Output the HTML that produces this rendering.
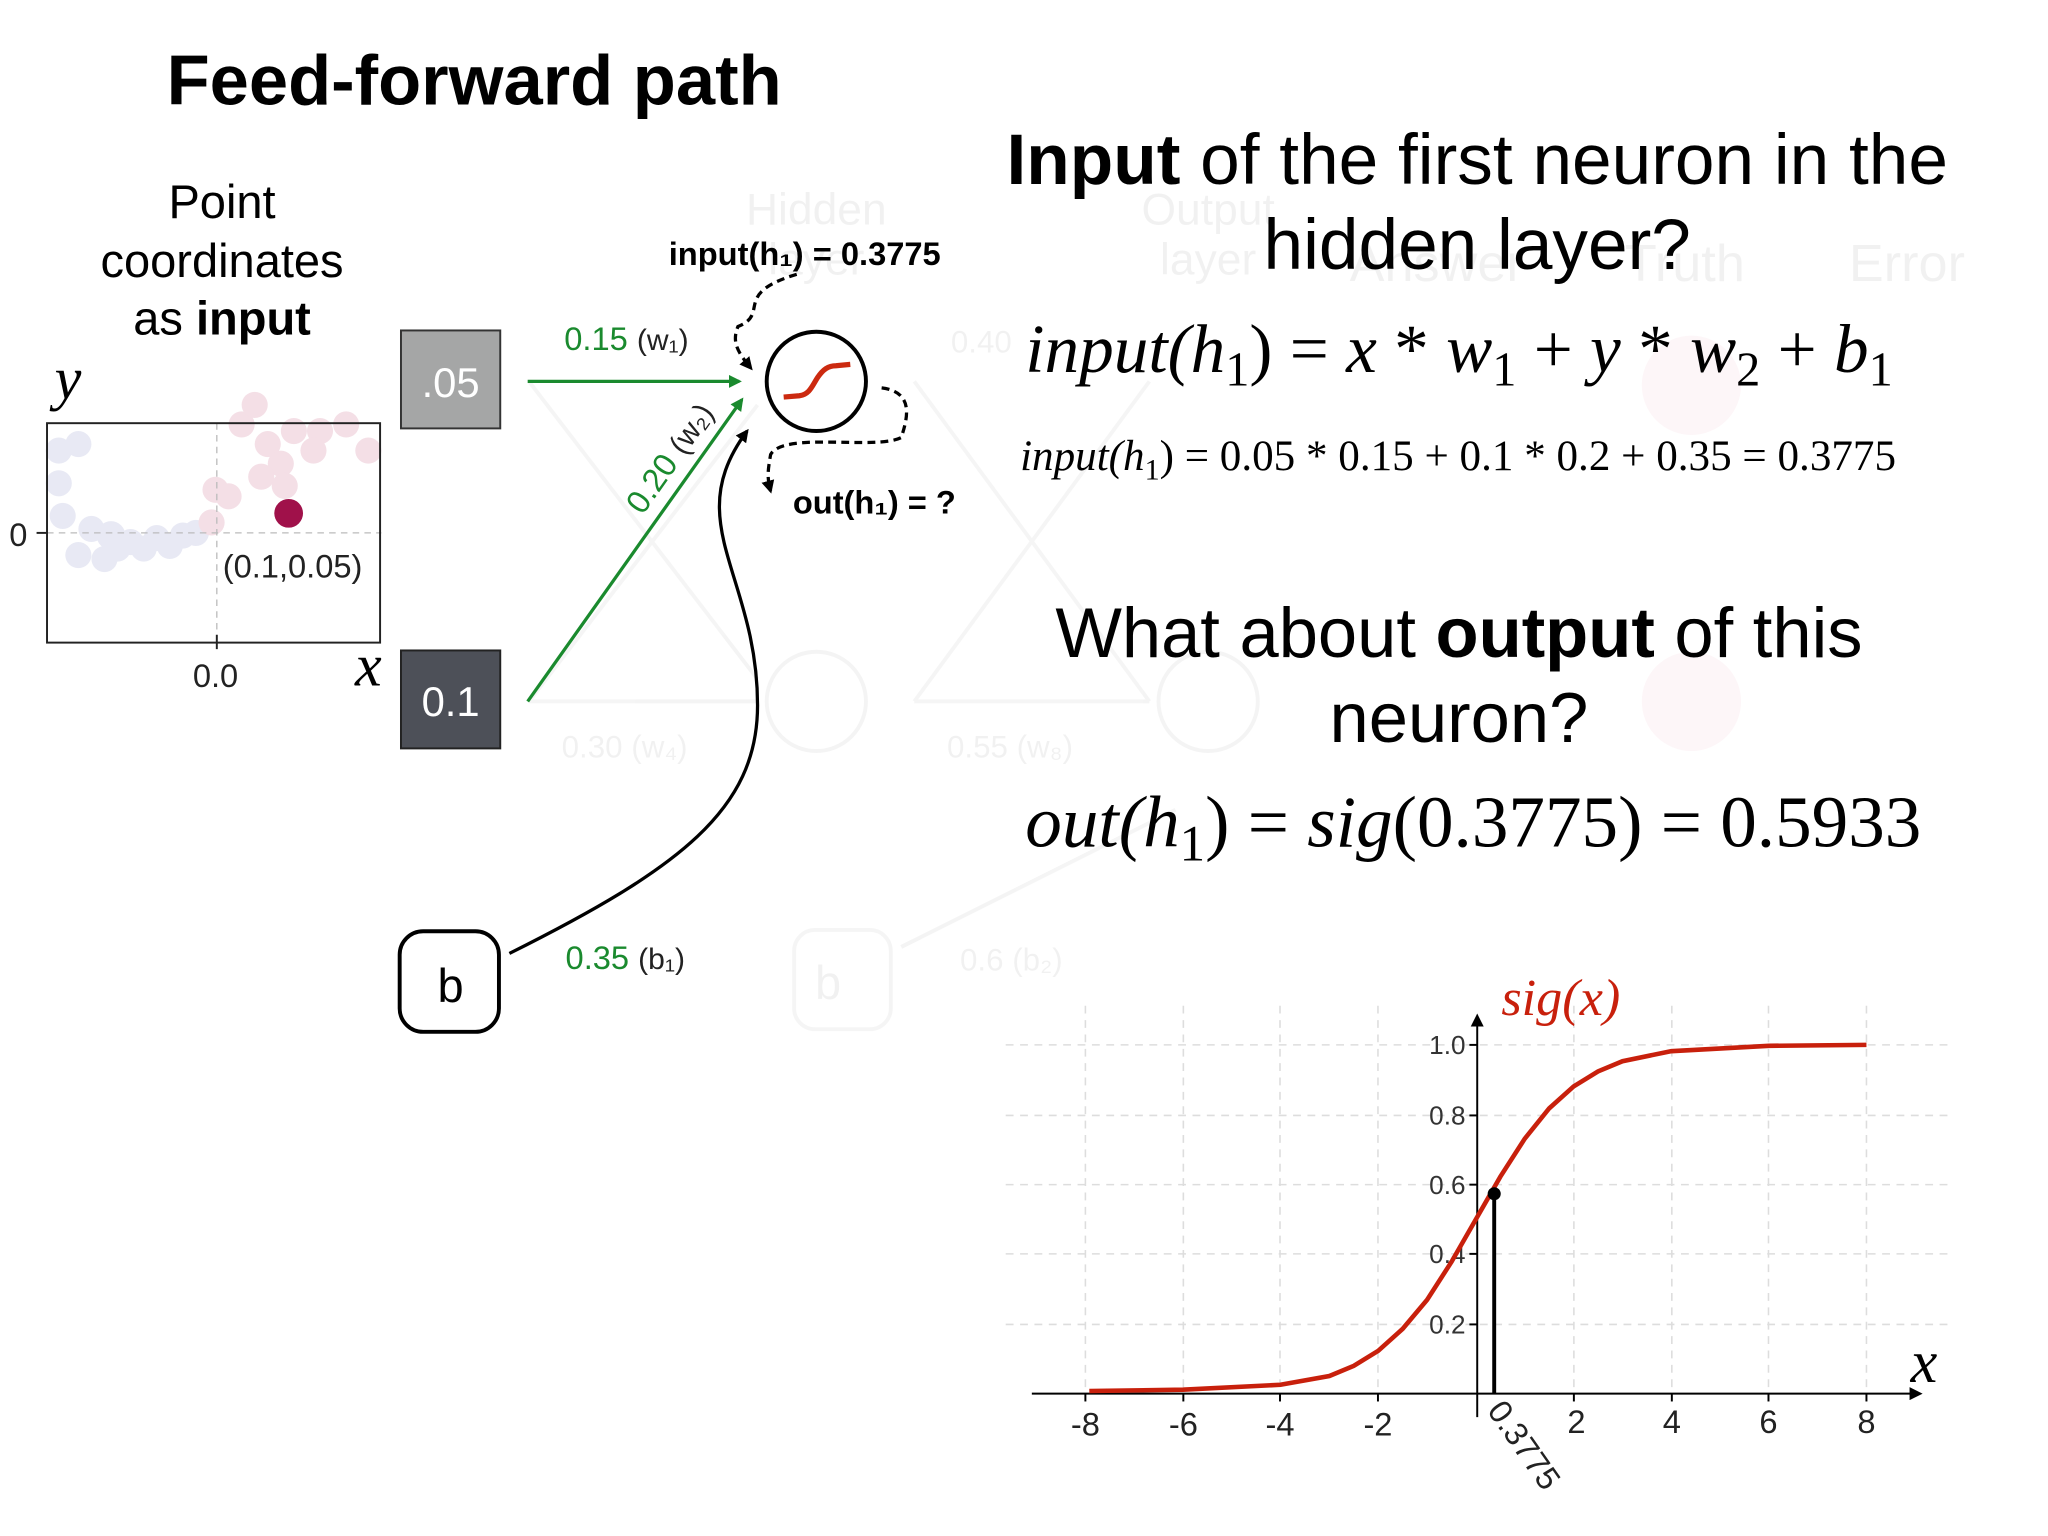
<!DOCTYPE html>
<html><head><meta charset="utf-8"><style>
html,body{margin:0;padding:0;background:#fff;width:2048px;height:1536px;overflow:hidden}
svg{display:block}
.s{font-family:"Liberation Sans",sans-serif}
.m{font-family:"Liberation Serif",serif}
</style></head><body>
<svg width="2048" height="1536" viewBox="0 0 1568 1176" preserveAspectRatio="none" xmlns="http://www.w3.org/2000/svg">
<defs>
<marker id="ag" markerWidth="10" markerHeight="10" refX="8" refY="5" orient="auto" markerUnits="userSpaceOnUse"><path d="M0,0 L10,5 L0,10 z" fill="#1a8a2e"/></marker>
<marker id="ak" markerWidth="10" markerHeight="10" refX="8" refY="5" orient="auto" markerUnits="userSpaceOnUse"><path d="M0,0 L10,5 L0,10 z" fill="#000"/></marker>
</defs>
<rect width="1568" height="1176" fill="#fff"/>

<!-- faded background network -->
<g opacity="0.05" class="s" fill="#000">
<text x="625" y="172" font-size="34" text-anchor="middle">Hidden</text>
<text x="625" y="210" font-size="34" text-anchor="middle">layer</text>
<text x="925" y="172" font-size="34" text-anchor="middle">Output</text>
<text x="925" y="210" font-size="34" text-anchor="middle">layer</text>
<text x="1100" y="215" font-size="40" text-anchor="middle">Answer</text>
<text x="1290" y="215" font-size="40" text-anchor="middle">Truth</text>
<text x="1460" y="215" font-size="40" text-anchor="middle">Error</text>
<text x="430" y="580" font-size="24">0.30 (w₄)</text>
<text x="725" y="580" font-size="24">0.55 (w₈)</text>
<text x="728" y="270" font-size="24">0.40</text>
<text x="634" y="765" font-size="36" text-anchor="middle">b</text>
<text x="735" y="743" font-size="24">0.6 (b₂)</text>
</g>
<g opacity="0.04" fill="none" stroke="#000" stroke-width="3">
<circle cx="625" cy="537" r="38"/><circle cx="925" cy="537" r="38"/>
<path d="M405,292 L580,520 M405,537 L580,310 M700,292 L880,537 M700,537 L880,292 M700,537 H880 M405,537 H580"/>
<rect x="608" y="712" width="74" height="76" rx="16"/>
<path d="M690,725 L900,620"/>
</g>
<g opacity="0.04" fill="#c02050"><circle cx="1295" cy="295" r="38"/><circle cx="1295" cy="537" r="38"/></g>

<!-- title -->
<text x="363" y="80" class="s" font-size="54" font-weight="bold" text-anchor="middle">Feed-forward path</text>
<text x="170" y="167" class="s" font-size="36" text-anchor="middle">Point</text>
<text x="170" y="212" class="s" font-size="36" text-anchor="middle">coordinates</text>
<text x="170" y="256" class="s" font-size="36" text-anchor="middle">as <tspan font-weight="bold">input</tspan></text>

<!-- scatter plot -->
<g opacity="0.22">
<g fill="#9aa0d0">
<circle cx="45" cy="345" r="10"/><circle cx="60" cy="340" r="10"/><circle cx="45" cy="370" r="10"/><circle cx="48" cy="395" r="10"/><circle cx="70" cy="405" r="10"/><circle cx="85" cy="410" r="11"/><circle cx="100" cy="415" r="10"/><circle cx="120" cy="412" r="10"/><circle cx="140" cy="410" r="10"/><circle cx="60" cy="425" r="10"/><circle cx="90" cy="420" r="10"/><circle cx="110" cy="420" r="10"/><circle cx="130" cy="418" r="10"/><circle cx="150" cy="408" r="10"/><circle cx="80" cy="428" r="10"/>
</g>
<g fill="#d07090">
<circle cx="165" cy="375" r="10"/><circle cx="175" cy="380" r="10"/><circle cx="162" cy="400" r="10"/><circle cx="185" cy="325" r="10"/><circle cx="205" cy="340" r="10"/><circle cx="215" cy="355" r="10"/><circle cx="200" cy="365" r="10"/><circle cx="225" cy="330" r="10"/><circle cx="245" cy="330" r="10"/><circle cx="265" cy="325" r="10"/><circle cx="282" cy="345" r="10"/><circle cx="240" cy="345" r="10"/><circle cx="195" cy="310" r="10"/><circle cx="218" cy="372" r="10"/>
</g></g>
<line x1="166" y1="324" x2="166" y2="492" stroke="#bbb" stroke-width="1" stroke-dasharray="5,4"/>
<line x1="36" y1="408" x2="292" y2="408" stroke="#bbb" stroke-width="1" stroke-dasharray="5,4"/>
<rect x="36" y="324" width="255" height="168" fill="none" stroke="#222" stroke-width="1.5"/>
<line x1="28" y1="408" x2="36" y2="408" stroke="#222" stroke-width="1.5"/>
<line x1="166" y1="486" x2="166" y2="497" stroke="#222" stroke-width="1.5"/>
<circle cx="221" cy="393" r="11" fill="#a0114a"/>
<text x="224" y="442" class="s" font-size="25" text-anchor="middle" fill="#222">(0.1,0.05)</text>
<text x="14" y="418" class="s" font-size="25" text-anchor="middle" fill="#222">0</text>
<text x="165" y="526" class="s" font-size="25" text-anchor="middle" fill="#222">0.0</text>
<text x="52" y="305" class="m" font-size="46" font-style="italic" text-anchor="middle">y</text>
<text x="282" y="525" class="m" font-size="46" font-style="italic" text-anchor="middle">x</text>

<!-- input nodes -->
<rect x="307" y="253" width="76" height="75" fill="#a5a6a6" stroke="#333" stroke-width="1.5"/>
<text x="345" y="304" class="s" font-size="32" fill="#fff" text-anchor="middle">.05</text>
<rect x="307" y="498" width="76" height="75" fill="#4d5058" stroke="#222" stroke-width="1.5"/>
<text x="345" y="548" class="s" font-size="32" fill="#fff" text-anchor="middle">0.1</text>
<rect x="306" y="713" width="76" height="77" rx="18" fill="#fff" stroke="#000" stroke-width="3"/>
<text x="345" y="767" class="s" font-size="36" text-anchor="middle">b</text>

<!-- connections -->
<line x1="404" y1="292" x2="566" y2="292" stroke="#1a8a2e" stroke-width="2.5" marker-end="url(#ag)"/>
<line x1="404" y1="537" x2="568" y2="306" stroke="#1a8a2e" stroke-width="2.5" marker-end="url(#ag)"/>
<path d="M390,730 C520,665 580,620 580,540 C580,440 520,400 572,330" fill="none" stroke="#000" stroke-width="2.5" marker-end="url(#ak)"/>
<text x="432" y="268" class="s" font-size="25" fill="#1a8a2e">0.15 <tspan fill="#222" font-size="23">(w₁)</tspan></text>
<text transform="translate(492,395) rotate(-55)" class="s" font-size="25" fill="#1a8a2e">0.20 <tspan fill="#222" font-size="23">(w₂)</tspan></text>
<text x="433" y="742" class="s" font-size="25" fill="#1a8a2e">0.35 <tspan fill="#222" font-size="23">(b₁)</tspan></text>

<!-- neuron -->
<circle cx="625" cy="292" r="38" fill="#fff" stroke="#000" stroke-width="3"/>
<path d="M600,304 L612,303 C620,302 622,295 626,289 C630,283 634,280 640,280 L651,279" fill="none" stroke="#cc2a10" stroke-width="4"/>
<path d="M610,210 C560,225 590,240 565,250 C560,262 565,270 575,282" fill="none" stroke="#000" stroke-width="2.5" stroke-dasharray="6,4" marker-end="url(#ak)"/>
<path d="M675,297 C700,300 695,320 690,335 C670,345 600,330 590,348 C588,360 587,365 590,376" fill="none" stroke="#000" stroke-width="2.5" stroke-dasharray="6,4" marker-end="url(#ak)"/>
<text x="512" y="203" class="s" font-size="25" font-weight="bold">input(h₁) = 0.3775</text>
<text x="607" y="393" class="s" font-size="25" font-weight="bold">out(h₁) = ?</text>

<!-- right text -->
<text x="1131" y="141" class="s" font-size="54.5" text-anchor="middle"><tspan font-weight="bold">Input</tspan> of the first neuron in the</text>
<text x="1131" y="206" class="s" font-size="54.5" text-anchor="middle">hidden layer?</text>
<text x="785" y="285" class="m" font-size="53" font-style="italic">input(h<tspan font-style="normal" font-size="37" dy="10">1</tspan><tspan dy="-10" font-style="normal">) = </tspan>x<tspan font-style="normal"> * </tspan>w<tspan font-style="normal" font-size="37" dy="10">1</tspan><tspan dy="-10" font-style="normal"> + </tspan>y<tspan font-style="normal"> * </tspan>w<tspan font-style="normal" font-size="37" dy="10">2</tspan><tspan dy="-10" font-style="normal"> + </tspan>b<tspan font-style="normal" font-size="37" dy="10">1</tspan></text>
<text x="781" y="360" class="m" font-size="33" font-style="italic">input(h<tspan font-style="normal" font-size="23" dy="7">1</tspan><tspan dy="-7" font-style="normal">) = 0.05 * 0.15 + 0.1 * 0.2 + 0.35 = 0.3775</tspan></text>
<text x="1117" y="503" class="s" font-size="54" text-anchor="middle">What about <tspan font-weight="bold">output</tspan> of this</text>
<text x="1117" y="568" class="s" font-size="54" text-anchor="middle">neuron?</text>
<text x="785" y="648" class="m" font-size="56" font-style="italic">out(h<tspan font-style="normal" font-size="39" dy="11">1</tspan><tspan dy="-11" font-style="normal">) = </tspan>sig<tspan font-style="normal">(0.3775) = 0.5933</tspan></text>

<!-- sigmoid chart -->
<g stroke="#ddd" stroke-width="1.2" stroke-dasharray="6,5">
<line x1="770" y1="800" x2="1495" y2="800"/><line x1="770" y1="854" x2="1495" y2="854"/><line x1="770" y1="907" x2="1495" y2="907"/><line x1="770" y1="960" x2="1495" y2="960"/><line x1="770" y1="1014" x2="1495" y2="1014"/>
<line x1="831" y1="770" x2="831" y2="1067"/><line x1="906" y1="770" x2="906" y2="1067"/><line x1="980" y1="770" x2="980" y2="1067"/><line x1="1055" y1="770" x2="1055" y2="1067"/><line x1="1205" y1="770" x2="1205" y2="1067"/><line x1="1280" y1="770" x2="1280" y2="1067"/><line x1="1354" y1="770" x2="1354" y2="1067"/><line x1="1429" y1="770" x2="1429" y2="1067"/>
</g>
<line x1="790" y1="1067" x2="1470" y2="1067" stroke="#000" stroke-width="1.5" marker-end="url(#ak)"/>
<line x1="1131" y1="1085" x2="1131" y2="778" stroke="#000" stroke-width="1.5" marker-end="url(#ak)"/>
<g stroke="#000" stroke-width="1.5">
<line x1="1125" y1="800" x2="1131" y2="800"/><line x1="1125" y1="854" x2="1131" y2="854"/><line x1="1125" y1="907" x2="1131" y2="907"/><line x1="1125" y1="960" x2="1131" y2="960"/><line x1="1125" y1="1014" x2="1131" y2="1014"/>
<line x1="831" y1="1067" x2="831" y2="1073"/><line x1="906" y1="1067" x2="906" y2="1073"/><line x1="980" y1="1067" x2="980" y2="1073"/><line x1="1055" y1="1067" x2="1055" y2="1073"/><line x1="1205" y1="1067" x2="1205" y2="1073"/><line x1="1280" y1="1067" x2="1280" y2="1073"/><line x1="1354" y1="1067" x2="1354" y2="1073"/><line x1="1429" y1="1067" x2="1429" y2="1073"/>
</g>
<g class="s" font-size="20" fill="#333" text-anchor="end">
<text x="1122" y="807">1.0</text><text x="1122" y="861">0.8</text><text x="1122" y="914">0.6</text><text x="1122" y="967">0.4</text><text x="1122" y="1021">0.2</text>
</g>
<g class="s" font-size="25" fill="#222" text-anchor="middle">
<text x="831" y="1099">-8</text><text x="906" y="1099">-6</text><text x="980" y="1099">-4</text><text x="1055" y="1099">-2</text><text x="1207" y="1097">2</text><text x="1280" y="1097">4</text><text x="1354" y="1097">6</text><text x="1429" y="1097">8</text>
</g>
<text transform="translate(1138,1080) rotate(55)" class="s" font-size="25" fill="#222">0.3775</text>
<polyline fill="none" stroke="#c8200c" stroke-width="3.5" points="834,1065 905.6,1064 980.4,1060.2 1017.8,1053.5 1036.5,1045.7 1055.2,1034.2 1073.9,1017.4 1092.6,995.2 1111.3,966.1 1130,933.5 1148.7,900.9 1167.4,871.8 1186.1,848.6 1204.8,831.8 1223.5,820.3 1242.2,812.5 1279.6,804.8 1354.4,800.7 1429,800"/>
<line x1="1144" y1="914" x2="1144" y2="1067" stroke="#000" stroke-width="3"/>
<circle cx="1144" cy="914" r="5" fill="#000"/>
<text x="1195" y="777" class="m" font-size="40" font-style="italic" fill="#c8200c" text-anchor="middle">sig(x)</text>
<text x="1473" y="1058" class="m" font-size="46" font-style="italic" text-anchor="middle">x</text>
</svg>
</body></html>
